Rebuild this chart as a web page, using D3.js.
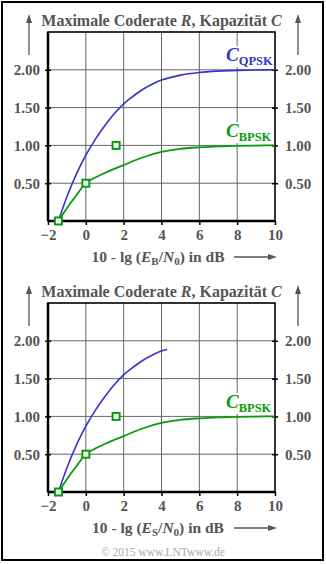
<!DOCTYPE html>
<html><head><meta charset="utf-8">
<script src="https://cdn.jsdelivr.net/npm/d3@7"></script>
<style>
html,body{margin:0;padding:0;background:#fff;}
svg{display:block;}
text{font-family:"Liberation Serif","Times New Roman",serif;}
</style></head>
<body>
<script>
// ---------- data ----------
const xTicks = [-2, 0, 2, 4, 6, 8, 10];
const yTicks = [0.5, 1.0, 1.5, 2.0];
const qpskX = [-1.45, -1, -0.5, 0, 0.5, 1, 1.5, 2, 2.5, 3, 3.5, 4, 4.5, 5, 6, 7, 8, 9, 10];
const qpskY = [0, 0.32, 0.62, 0.87, 1.08, 1.26, 1.42, 1.55, 1.65, 1.74, 1.81, 1.865, 1.9, 1.93, 1.965, 1.983, 1.993, 1.998, 2.0];
const qpskCutX = 4.3;   // lower chart: QPSK curve ends here
const bpskX = [-1.45, -1, -0.5, 0, 0.5, 1, 1.5, 2, 3, 4, 5, 6, 7, 8, 9, 10];
const bpskY = [0, 0.17, 0.34, 0.5, 0.575, 0.635, 0.69, 0.74, 0.84, 0.915, 0.955, 0.975, 0.988, 0.995, 0.998, 1.0];
const markX = [-1.45, 0, 1.6];
const markY = [0, 0.5, 1.0];
const titleText = ["Maximale Coderate ", "R", ", Kapazität ", "C"];
const xLabelSub = ["B", "S"];

// ---------- drawing ----------
const W = 326, H = 564;
const svg = d3.select("body").append("svg").attr("width", W).attr("height", H);
svg.append("rect").attr("x", 2).attr("y", 2).attr("width", 321).attr("height", 558)
  .attr("fill", "#fff").attr("stroke", "#000").attr("stroke-width", 2);

const grey = "#555";
const blue = "#3434c8";
const green = "#0a9a0a";

function chart(offY, idx) {
  const g = svg.append("g").attr("transform", `translate(0,${offY})`);
  const x = d3.scaleLinear().domain([-2, 10]).range([48, 275]);
  const y = d3.scaleLinear().domain([0, 2.5]).range([221, 32]);

  // gridlines
  g.append("g").selectAll("line.v").data(xTicks.filter(d => d > -2 && d < 10)).join("line")
    .attr("x1", d => x(d)).attr("x2", d => x(d)).attr("y1", y(0)).attr("y2", y(2.5))
    .attr("stroke", "#666").attr("stroke-width", 1);
  g.append("g").selectAll("line.h").data(yTicks).join("line")
    .attr("x1", x(-2)).attr("x2", x(10)).attr("y1", d => y(d)).attr("y2", d => y(d))
    .attr("stroke", "#666").attr("stroke-width", 1);

  // frame
  g.append("rect").attr("x", x(-2)).attr("y", y(2.5)).attr("width", x(10) - x(-2)).attr("height", y(0) - y(2.5))
    .attr("fill", "none").attr("stroke", "#000").attr("stroke-width", 1.6);
  g.append("line").attr("x1", x(-2)).attr("x2", x(10)).attr("y1", y(0)).attr("y2", y(0)).attr("stroke", "#000").attr("stroke-width", 2.5);
  g.append("line").attr("x1", x(-2)).attr("x2", x(-2)).attr("y1", y(0)).attr("y2", y(2.5)).attr("stroke", "#000").attr("stroke-width", 2.5);

  // axes
  const styleAxis = sel => {
    sel.select(".domain").remove();
    sel.selectAll(".tick line").attr("stroke", "#000").attr("stroke-width", 1.5);
    sel.selectAll(".tick text").attr("fill", grey).attr("font-size", 15).attr("font-weight", "bold")
      .attr("font-family", "'Liberation Serif', serif");
  };
  g.append("g").attr("transform", `translate(${x(-2)},0)`)
    .call(d3.axisLeft(y).tickValues(yTicks).tickSize(3).tickPadding(5).tickFormat(d3.format(".2f"))).call(styleAxis);
  g.append("g").attr("transform", `translate(${x(-2)},0)`)
    .call(d3.axisRight(y).tickValues(yTicks).tickSize(3).tickFormat("")).call(styleAxis);
  g.append("g").attr("transform", `translate(${x(10)},0)`)
    .call(d3.axisRight(y).tickValues(yTicks).tickSize(3).tickPadding(7).tickFormat(d3.format(".2f"))).call(styleAxis);
  g.append("g").attr("transform", `translate(${x(10)},0)`)
    .call(d3.axisLeft(y).tickValues(yTicks).tickSize(3).tickFormat("")).call(styleAxis);
  g.append("g").attr("transform", `translate(0,${y(0)})`)
    .call(d3.axisBottom(x).tickValues(xTicks).tickSize(4).tickPadding(4)).call(styleAxis);

  // title
  const t = g.append("text").attr("x", (x(-2) + x(10)) / 2).attr("y", 26).attr("text-anchor", "middle")
    .attr("font-size", 16).attr("font-weight", "bold").attr("fill", grey);
  titleText.forEach((s, i) => t.append("tspan").text(s).attr("font-style", i % 2 ? "italic" : "normal"));

  // vertical arrows
  [29, 298].forEach(ax => {
    g.append("line").attr("x1", ax).attr("x2", ax).attr("y1", 55).attr("y2", 22).attr("stroke", grey).attr("stroke-width", 1.3);
    g.append("path").attr("d", `M${ax},14 L${ax - 3},23 L${ax + 3},23 Z`).attr("fill", grey);
  });

  // x label
  const xl = g.append("text").attr("x", 158).attr("y", 262).attr("text-anchor", "middle")
    .attr("font-size", 15.5).attr("font-weight", "bold").attr("fill", grey);
  xl.append("tspan").text("10 - lg (");
  xl.append("tspan").text("E").attr("font-style", "italic");
  xl.append("tspan").text(xLabelSub[idx]).attr("font-size", 11).attr("dy", 3);
  xl.append("tspan").text("/").attr("dy", -3);
  xl.append("tspan").text("N").attr("font-style", "italic");
  xl.append("tspan").text("0").attr("font-size", 11).attr("dy", 3);
  xl.append("tspan").text(") in dB").attr("dy", -3);
  g.append("line").attr("x1", 234).attr("x2", 270).attr("y1", 257).attr("y2", 257).attr("stroke", grey).attr("stroke-width", 1.3);
  g.append("path").attr("d", "M277,257 L268,254 L268,260 Z").attr("fill", grey);

  // curves
  const line = d3.line().x(d => x(d[0])).y(d => y(d[1])).curve(d3.curveMonotoneX);
  let qp = qpskX.map((v, i) => [v, qpskY[i]]);
  if (idx === 1) {
    qp = qp.filter(d => d[0] <= 4);
    qp.push([qpskCutX, 1.885]);
  }
  g.append("path").attr("d", line(qp)).attr("fill", "none").attr("stroke", blue).attr("stroke-width", 1.6);
  g.append("path").attr("d", line(bpskX.map((v, i) => [v, bpskY[i]]))).attr("fill", "none").attr("stroke", green).attr("stroke-width", 1.8);

  // labels with white backgrounds
  function capLabel(lx, ly, sub, col) {
    const bg = g.append("rect").attr("fill", "#fff");
    const tx = g.append("text").attr("x", lx).attr("y", ly).attr("fill", col).attr("font-weight", "bold");
    tx.append("tspan").text("C").attr("font-style", "italic").attr("font-size", 19);
    tx.append("tspan").text(sub).attr("font-size", 12.5).attr("dy", 4);
    const b = tx.node().getBBox();
    bg.attr("x", b.x - 1).attr("y", b.y + 2).attr("width", b.width + 2).attr("height", b.height - 3);
  }
  if (idx === 0) capLabel(226, 61, "QPSK", blue);
  capLabel(226, 137, "BPSK", green);

  // markers
  g.append("g").selectAll("rect").data(markX.map((v, i) => [v, markY[i]])).join("rect")
    .attr("x", d => x(d[0]) - 3.5).attr("y", d => y(d[1]) - 3.5).attr("width", 7).attr("height", 7)
    .attr("fill", "#fff").attr("stroke", green).attr("stroke-width", 2);
}

chart(0, 0);
chart(271, 1);

svg.append("text").attr("x", 163).attr("y", 556).attr("text-anchor", "middle").attr("font-size", 11.5)
  .attr("fill", "#aaa").text("© 2015 www.LNTwww.de");
</script>
</body></html>
